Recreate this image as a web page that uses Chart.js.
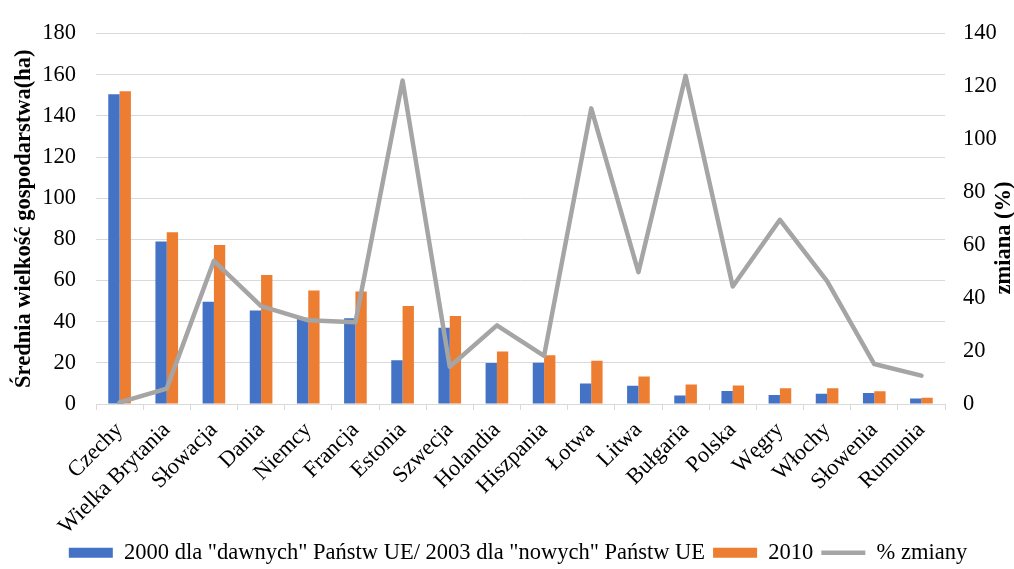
<!DOCTYPE html>
<html lang="pl">
<head>
<meta charset="utf-8">
<title>Średnia wielkość gospodarstwa</title>
<script src="https://cdn.jsdelivr.net/npm/chart.js@4/dist/chart.umd.min.js"></script>
<style>
  html, body { margin: 0; padding: 0; background: #ffffff; }
  #wrap { width: 1014px; height: 569px; }
</style>
</head>
<body>
<div id="wrap"><canvas id="chart" width="1014" height="569"></canvas></div>
<script>
// Kraje UE
const categories = [
  'Czechy', 'Wielka Brytania', 'Słowacja', 'Dania', 'Niemcy', 'Francja',
  'Estonia', 'Szwecja', 'Holandia', 'Hiszpania', 'Łotwa', 'Litwa',
  'Bułgaria', 'Polska', 'Węgry', 'Włochy', 'Słowenia', 'Rumunia'
];

// Średnia wielkość gospodarstwa (ha)
const values2000 = [150.5, 79.0, 49.7, 45.4, 41.9, 41.6, 21.3, 37.0, 19.9, 20.0, 10.0, 8.9, 4.1, 6.3, 4.4, 5.0, 5.3, 2.7];
const values2010 = [152.0, 83.5, 77.2, 62.7, 55.2, 54.6, 47.6, 42.7, 25.5, 23.7, 21.0, 13.3, 9.5, 9.0, 7.7, 7.6, 6.2, 3.0];

// Zmiana w procentach
const pctChange = [0.6, 5.8, 54.1, 37.0, 31.6, 30.9, 122.2, 14.1, 29.7, 18.2, 111.7, 49.8, 124.0, 44.4, 69.6, 46.4, 15.1, 10.7];

// Podziałki osi
const leftTicks = { min: 0, max: 180, step: 20 };
const rightTicks = { min: 0, max: 140, step: 20 };

const seriesLabels = ['2000 dla "dawnych" Państw UE/ 2003 dla "nowych" Państw UE', '2010', '% zmiany'];
const leftTitle = 'Średnia wielkość gospodarstwa(ha)';
const rightTitle = 'zmiana (%)';

const FONT = "'Liberation Serif', 'Times New Roman', serif";
const FONT_SIZE = 22.5;
const GRID = '#d9d9d9';

// Pionowe tytuły osi
const axisTitles = {
  id: 'axisTitles',
  afterDraw(chart) {
    const ctx = chart.ctx;
    const area = chart.chartArea;
    ctx.save();
    ctx.fillStyle = '#000000';
    ctx.font = 'bold ' + FONT_SIZE + 'px ' + FONT;
    ctx.textAlign = 'center';
    ctx.textBaseline = 'middle';

    ctx.save();
    ctx.translate(24, (area.top + area.bottom) / 2);
    ctx.rotate(-Math.PI / 2);
    ctx.fillText(leftTitle, 0, 0);
    ctx.restore();

    ctx.save();
    ctx.translate(1004, 238);
    ctx.rotate(-Math.PI / 2);
    ctx.fillText(rightTitle, 0, 0);
    ctx.restore();

    ctx.restore();
  }
};

new Chart(document.getElementById('chart'), {
  data: {
    labels: categories,
    datasets: [
      {
        type: 'bar',
        label: seriesLabels[0],
        data: values2000,
        backgroundColor: '#4472c4',
        borderWidth: 0,
        yAxisID: 'y',
        order: 1,
        pointStyle: 'rect'
      },
      {
        type: 'bar',
        label: seriesLabels[1],
        data: values2010,
        backgroundColor: '#ed7d31',
        borderWidth: 0,
        yAxisID: 'y',
        order: 1,
        pointStyle: 'rect'
      },
      {
        type: 'line',
        label: seriesLabels[2],
        data: pctChange,
        borderColor: '#a5a5a5',
        backgroundColor: '#a5a5a5',
        borderWidth: 4.5,
        borderJoinStyle: 'round',
        borderCapStyle: 'round',
        pointRadius: 0,
        pointHoverRadius: 0,
        tension: 0,
        yAxisID: 'y1',
        order: 0,
        pointStyle: 'line'
      }
    ]
  },
  options: {
    responsive: false,
    animation: false,
    events: [],
    layout: { padding: { top: 27, left: 22, right: 0, bottom: -5 } },
    datasets: {
      bar: { categoryPercentage: 0.48, barPercentage: 1.0 }
    },
    scales: {
      x: {
        offset: true,
        grid: {
          display: true,
          drawOnChartArea: false,
          drawTicks: true,
          tickLength: 6,
          color: GRID,
          offset: true
        },
        border: { display: true, color: GRID, width: 1 },
        ticks: {
          color: '#000000',
          font: { family: FONT, size: FONT_SIZE },
          minRotation: 45,
          maxRotation: 45,
          autoSkip: false,
          padding: 7
        },
        afterFit(scale) { scale.height = 129.5; }
      },
      y: {
        position: 'left',
        min: leftTicks.min,
        max: leftTicks.max,
        grid: { color: GRID, lineWidth: 1, drawTicks: false },
        border: { display: false },
        ticks: {
          stepSize: leftTicks.step,
          color: '#000000',
          font: { family: FONT, size: FONT_SIZE },
          padding: 20
        },
        afterFit(scale) { scale.width = 74; }
      },
      y1: {
        position: 'right',
        min: rightTicks.min,
        max: rightTicks.max,
        grid: { drawOnChartArea: false, drawTicks: false },
        border: { display: false },
        ticks: {
          stepSize: rightTicks.step,
          color: '#000000',
          font: { family: FONT, size: FONT_SIZE },
          padding: 18
        },
        afterFit(scale) { scale.width = 69; }
      }
    },
    plugins: {
      tooltip: { enabled: false },
      legend: {
        position: 'bottom',
        labels: {
          color: '#000000',
          font: { family: FONT, size: FONT_SIZE },
          usePointStyle: true,
          pointStyleWidth: 44,
          boxHeight: 10,
          padding: 8,
          sort: (a, b) => a.datasetIndex - b.datasetIndex,
          generateLabels(chart) {
            return chart.data.datasets.map((ds, i) => ({
              text: ds.label,
              fillStyle: ds.backgroundColor,
              strokeStyle: ds.type === 'line' ? ds.borderColor : ds.backgroundColor,
              lineWidth: ds.type === 'line' ? 4.5 : 0,
              pointStyle: ds.pointStyle,
              fontColor: '#000000',
              hidden: false,
              datasetIndex: i
            }));
          }
        }
      }
    }
  },
  plugins: [axisTitles]
});
</script>
</body>
</html>
